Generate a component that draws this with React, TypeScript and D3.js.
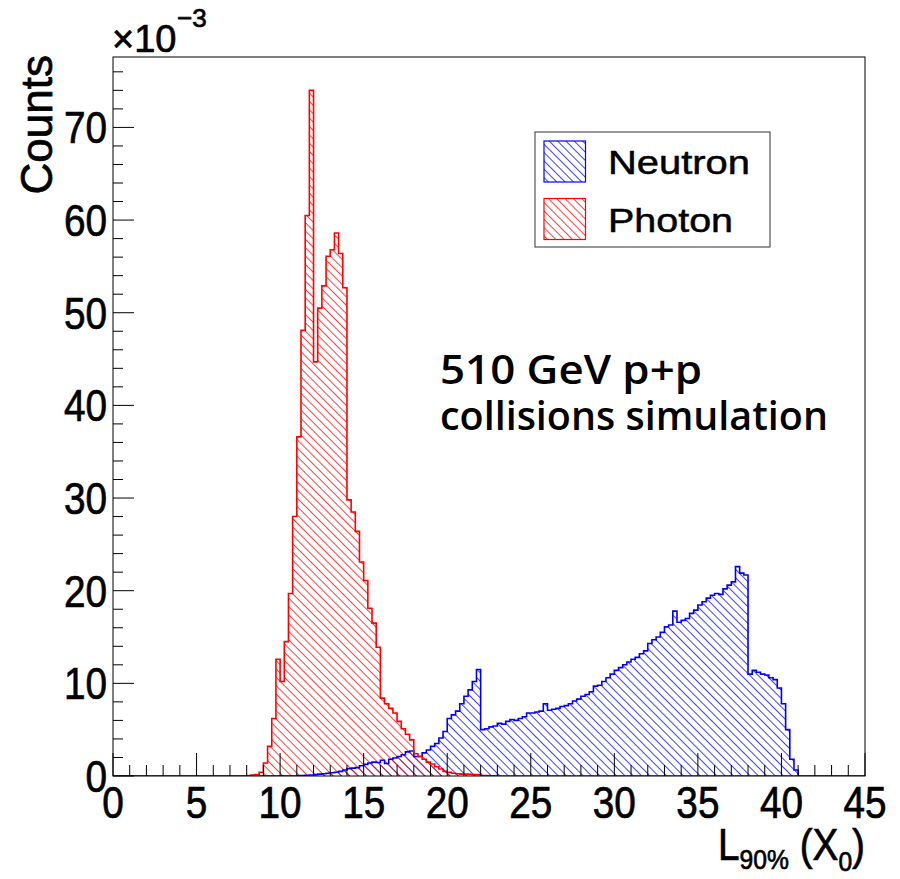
import React from "react";
import * as d3 from "d3";

// ---------- data (values in units of 1e-3) ----------
const binWidth = 0.25;
const xDomain: [number, number] = [0, 45];
const yMax = 77.6;

const photonStart = 8.0;
const photonCounts = [
  0.05, 0.1, 0.15, 0.4, 1.4, 3.2, 6.2, 12.6, 10.2, 14.5, 19.7, 28.0,
  36.6, 48.1, 60.5, 74.0, 44.7, 50.5, 52.9, 56.1, 56.8, 58.6, 56.4, 52.7,
  29.8, 28.5, 26.4, 23.1, 21.1, 18.1, 16.5, 13.9, 8.4, 7.8, 7.3, 6.8,
  5.9, 5.1, 4.5, 3.9, 2.4, 2.1, 1.8, 1.5, 1.3, 1.0, 0.75, 0.5,
  0.4, 0.3, 0.25, 0.2, 0.2, 0.18, 0.15, 0.15, 0.05, 0.04, 0.03, 0.03,
];

const neutronStart = 11.0;
const neutronCounts = [
  0.05, 0.05, 0.08, 0.1, 0.15, 0.2, 0.25, 0.3, 0.35, 0.4, 0.5, 0.65,
  0.8, 0.85, 0.9, 1.1, 1.25, 1.4, 1.5, 1.45, 1.7, 1.35, 1.8, 1.95,
  2.1, 2.3, 2.6, 2.7, 2.1, 2.1, 2.5, 2.8, 3.2, 3.5, 4.1, 4.8,
  6.2, 6.6, 7.0, 7.8, 8.6, 9.3, 10.2, 11.5,
  5.0, 5.1, 5.3, 5.4, 5.7, 5.6, 5.9, 6.1, 6.0, 6.2, 6.4, 6.8,
  6.8, 6.9, 7.0, 7.8, 7.1, 7.2, 7.3, 7.5, 7.6, 7.8, 8.1, 8.3,
  8.6, 8.8, 9.1, 9.7, 9.8, 10.2, 10.6, 11.0, 11.4, 11.7, 12.0, 12.3,
  12.6, 12.8, 13.2, 13.5, 14.3, 14.7, 15.0, 15.5, 16.1, 16.3, 17.8, 16.6,
  16.8, 17.0, 17.55, 17.9, 18.45, 18.8, 19.2, 19.5, 19.7, 19.6, 20.2, 20.6,
  20.95, 22.6, 21.9, 21.7, 11.0, 11.4, 11.2, 11.0, 10.9, 10.6, 10.4, 9.5,
  7.8, 5.0, 1.8, 0.65,
];

const xMajorTicks = [0, 5, 10, 15, 20, 25, 30, 35, 40, 45];
const yMajorTicks = [0, 10, 20, 30, 40, 50, 60, 70];
const xMinorStep = 1;
const yMinorStep = 2;
const legendLabels = ["Neutron", "Photon"];
const annotationLines = ["510 GeV p+p", "collisions simulation"];

// ---------- layout ----------
const W = 900;
const H = 879;
const L = 113, R = 865, T = 57, B = 776;
const NEUTRON = "#0000ff";
const PHOTON = "#ff0000";
const SQ = 0.88; // horizontal squeeze of the reference's text

const x = d3.scaleLinear().domain(xDomain).range([L, R]);
const y = d3.scaleLinear().domain([0, yMax]).range([B, T]);

function histPoints(start: number, counts: number[]): [number, number][] {
  const nb = Math.round((xDomain[1] - xDomain[0]) / binWidth);
  const pts: [number, number][] = [[xDomain[0], 0]];
  for (let i = 0; i < nb; i++) {
    const lo = xDomain[0] + i * binWidth;
    const idx = Math.round((lo - start) / binWidth);
    const v = idx >= 0 && idx < counts.length ? counts[idx] : 0;
    pts.push([lo, v], [lo + binWidth, v]);
  }
  pts.push([xDomain[1], 0]);
  return pts;
}

const line = d3
  .line<[number, number]>()
  .x((d) => x(d[0]))
  .y((d) => y(d[1]));
const area = d3
  .area<[number, number]>()
  .x((d) => x(d[0]))
  .y0(y(0))
  .y1((d) => y(d[1]));

const neutronPts = histPoints(neutronStart, neutronCounts);
const photonPts = histPoints(photonStart, photonCounts);

const FONT = "'Liberation Sans', Arial, Helvetica, sans-serif";
const THICK = 0.7;

function Sq({ tx, ty, anchor, size, children, sq }: any) {
  return (
    <text
      transform={`translate(${tx},${ty}) scale(${sq ?? SQ},1)`}
      textAnchor={anchor}
      fontSize={size}
      fontFamily={FONT}
      fill="#000"
      stroke="#000"
      strokeWidth={THICK}
    >
      {children}
    </text>
  );
}

export default function App() {
  const xMinor = d3.range(xDomain[0], xDomain[1] + 0.001, xMinorStep);
  const yMinor = d3.range(0, yMax, yMinorStep);
  return (
    <div style={{ position: "absolute", left: 0, top: 0 }}>
      <svg width={W} height={H} viewBox={`0 0 ${W} ${H}`} style={{ display: "block", background: "#fff" }}>
        <defs>
          <pattern id="hatchBlue" patternUnits="userSpaceOnUse" width={12} height={5.9} patternTransform="rotate(45)">
            <line x1={0} y1={0.5} x2={12} y2={0.5} stroke={NEUTRON} strokeWidth={1} strokeOpacity={0.75} />
          </pattern>
          <pattern id="hatchRed" patternUnits="userSpaceOnUse" width={12} height={5.9} patternTransform="rotate(45)">
            <line x1={0} y1={0.5} x2={12} y2={0.5} stroke={PHOTON} strokeWidth={1} strokeOpacity={0.75} />
          </pattern>
          <clipPath id="frameClip">
            <rect x={L} y={T} width={R - L} height={B - T} />
          </clipPath>
        </defs>
        <rect x={0} y={0} width={W} height={H} fill="#fff" />

        {/* histograms */}
        <g clipPath="url(#frameClip)">
          <path d={area(neutronPts) || ""} fill="url(#hatchBlue)" />
          <path d={area(photonPts) || ""} fill="url(#hatchRed)" />
          <path d={line(neutronPts) || ""} fill="none" stroke={NEUTRON} strokeWidth={1.6} />
          <path d={line(photonPts) || ""} fill="none" stroke={PHOTON} strokeWidth={1.6} />
        </g>

        {/* frame */}
        <rect x={L} y={T} width={R - L} height={B - T} fill="none" stroke="#000" strokeWidth={1} />

        {/* x ticks */}
        {xMinor.map((v) => {
          const major = xMajorTicks.includes(Math.round(v * 1000) / 1000);
          return (
            <line key={"xt" + v} x1={x(v)} x2={x(v)} y1={B} y2={B - (major ? 23 : 11)} stroke="#000" strokeWidth={1} />
          );
        })}
        {/* y ticks */}
        {yMinor.map((v) => {
          const major = yMajorTicks.includes(v);
          return (
            <line key={"yt" + v} x1={L} x2={L + (major ? 21 : 10)} y1={y(v)} y2={y(v)} stroke="#000" strokeWidth={1} />
          );
        })}

        {/* tick labels */}
        {xMajorTicks.map((v) => (
          <Sq key={"xl" + v} tx={x(v)} ty={818} anchor="middle" size={44}>
            {v}
          </Sq>
        ))}
        {yMajorTicks.map((v) => (
          <Sq key={"yl" + v} tx={107} ty={y(v) + 16} anchor="end" size={44}>
            {v}
          </Sq>
        ))}

        {/* exponent */}
        <Sq tx={112} ty={52} anchor="start" size={38} sq={1}>
          ×10
        </Sq>
        <Sq tx={177} ty={27} anchor="start" size={26} sq={1}>
          −3
        </Sq>

        {/* axis titles */}
        <text
          transform={`translate(52,55) rotate(-90)`}
          textAnchor="end"
          fontSize={44}
          fontFamily={FONT}
          fill="#000"
          stroke="#000"
          strokeWidth={THICK}
        >
          Counts
        </text>
        <text
          transform={`translate(865,860) scale(${SQ},1)`}
          textAnchor="end"
          fontSize={44}
          fontFamily={FONT}
          fill="#000"
          stroke="#000"
          strokeWidth={THICK}
        >
          <tspan>L</tspan>
          <tspan fontSize={28} dy={9}>90%</tspan>
          <tspan dy={-9}> (X</tspan>
          <tspan fontSize={28} dy={11}>0</tspan>
          <tspan dy={-11}>)</tspan>
        </text>

        {/* legend */}
        <rect x={535} y={132} width={235} height={115} fill="#fff" stroke="#333" strokeWidth={1} />
        {legendLabels.map((lab, i) => {
          const sy = 141 + i * 57.5;
          const col = i === 0 ? NEUTRON : PHOTON;
          const pat = i === 0 ? "url(#hatchBlue)" : "url(#hatchRed)";
          return (
            <g key={lab}>
              <rect x={544} y={sy} width={41.5} height={41} fill={pat} stroke={col} strokeWidth={1.2} />
              <text
                x={608}
                y={sy + 33}
                fontSize={34}
                fontFamily={FONT}
                fill="#000"
                stroke="#000"
                strokeWidth={0.5}
                textLength={i === 0 ? 142 : 125}
                lengthAdjust="spacingAndGlyphs"
              >
                {lab}
              </text>
            </g>
          );
        })}

        {/* annotation */}
        {annotationLines.map((t, i) => (
          <text
            key={t}
            x={440}
            y={384 + i * 46}
            fontSize={40}
            fontFamily="'Open Sans', 'Noto Sans', sans-serif"
            fontWeight={600}
            fill="#000"
            textLength={i === 0 ? 262 : 388}
            lengthAdjust="spacingAndGlyphs"
          >
            {t}
          </text>
        ))}
      </svg>
    </div>
  );
}
